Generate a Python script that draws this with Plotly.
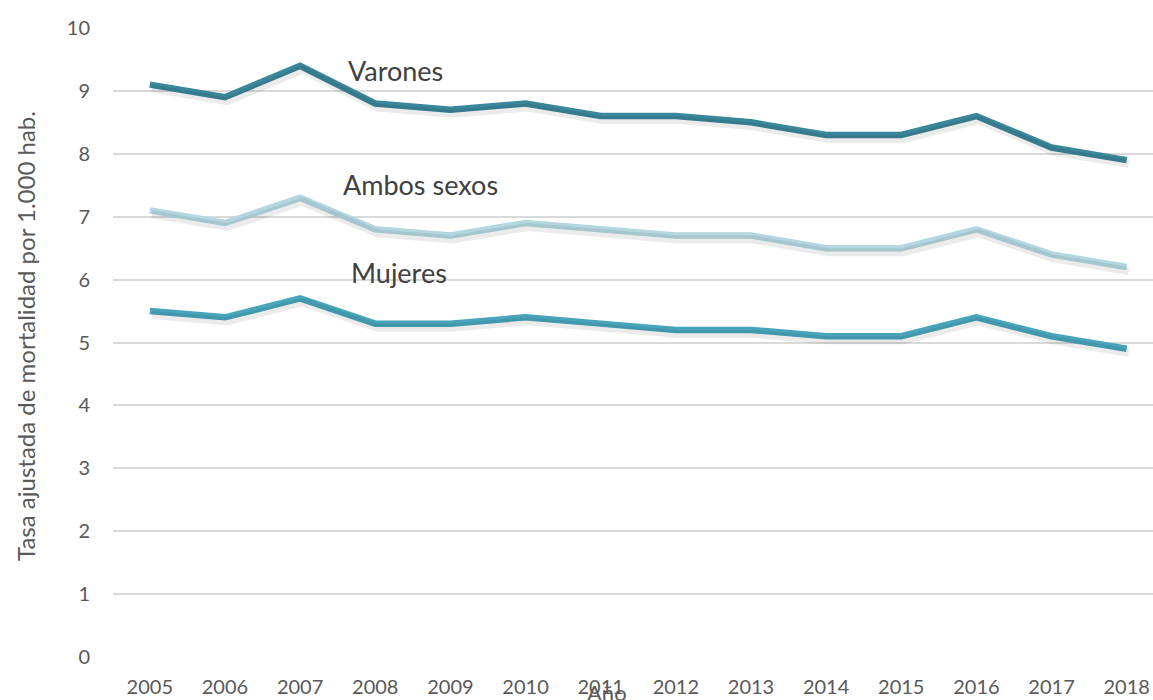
import plotly.graph_objects as go

years = ["2005", "2006", "2007", "2008", "2009", "2010", "2011", "2012",
         "2013", "2014", "2015", "2016", "2017", "2018"]
varones = [9.1, 8.9, 9.4, 8.8, 8.7, 8.8, 8.6, 8.6, 8.5, 8.3, 8.3, 8.6, 8.1, 7.9]
ambos = [7.1, 6.9, 7.3, 6.8, 6.7, 6.9, 6.8, 6.7, 6.7, 6.5, 6.5, 6.8, 6.4, 6.2]
mujeres = [5.5, 5.4, 5.7, 5.3, 5.3, 5.4, 5.3, 5.2, 5.2, 5.1, 5.1, 5.4, 5.1, 4.9]

series = [
    ("Varones", varones, "#3a869a"),
    ("Ambos sexos", ambos, "#b4d6e1"),
    ("Mujeres", mujeres, "#47a4ba"),
]

FONT = "Lato"
fig = go.Figure()

# soft drop shadows (drawn on slightly shifted overlay axes)
for name, vals, col in series:
    fig.add_trace(go.Scatter(x=years, y=vals, mode="lines", xaxis="x2", yaxis="y2",
                             line=dict(color="rgba(0,0,0,0.08)", width=8),
                             hoverinfo="skip", showlegend=False))
for name, vals, col in series:
    fig.add_trace(go.Scatter(x=years, y=vals, mode="lines", name=name,
                             line=dict(color=col, width=6.5), showlegend=False))

xr = [-0.49, 13.35]
yr = [0, 10]
dx = 2.0 / 75.15
dy = 4.0 / 62.9

fig.update_layout(
    width=1153, height=700,
    margin=dict(l=113, r=0, t=28, b=43, autoexpand=False),
    plot_bgcolor="white", paper_bgcolor="white",
    font=dict(family=FONT, color="#595959", size=20),
    xaxis=dict(type="category", range=xr, showgrid=False, zeroline=False,
               showline=False, ticks="", tickfont=dict(size=20, color="#595959"),
               ticklabelstandoff=16, automargin=False),
    yaxis=dict(range=yr, dtick=1, showgrid=True, gridcolor="#d9d9d9", gridwidth=1.5,
               zeroline=False, showline=False, ticks="", automargin=False,
               tickfont=dict(size=20, color="#595959"), ticklabelstandoff=22),
    xaxis2=dict(type="category", overlaying="x", range=[xr[0] - dx, xr[1] - dx],
                visible=False),
    yaxis2=dict(overlaying="y", range=[yr[0] + dy, yr[1] + dy], visible=False),
    annotations=[
        dict(text="Varones", x=(395 - 113) / 1040, y=(657 - 70) / 629,
             xref="paper", yref="paper", xanchor="center", yanchor="middle",
             showarrow=False, font=dict(size=27, color="#404040", family=FONT)),
        dict(text="Ambos sexos", x=(420 - 113) / 1040, y=(657 - 185) / 629,
             xref="paper", yref="paper", xanchor="center", yanchor="middle",
             showarrow=False, font=dict(size=27, color="#404040", family=FONT)),
        dict(text="Mujeres", x=(399 - 113) / 1040, y=(657 - 272) / 629,
             xref="paper", yref="paper", xanchor="center", yanchor="middle",
             showarrow=False, font=dict(size=27, color="#404040", family=FONT)),
        dict(text="Año", x=(607 - 113) / 1040, y=(657 - 677) / 629,
             xref="paper", yref="paper", xanchor="center", yanchor="top",
             showarrow=False, font=dict(size=22, color="#595959", family=FONT)),
        dict(text="Tasa ajustada de mortalidad por 1.000 hab.",
             x=(25 - 113) / 1040, y=(657 - 336) / 629,
             xref="paper", yref="paper", textangle=-90, showarrow=False,
             xanchor="center", yanchor="middle",
             font=dict(size=24, color="#595959", family=FONT)),
    ],
)

fig.write_html(
    "out.html",
    config={"displayModeBar": False},
    post_script="document.body.style.margin='0';document.body.style.overflow='hidden';",
)
